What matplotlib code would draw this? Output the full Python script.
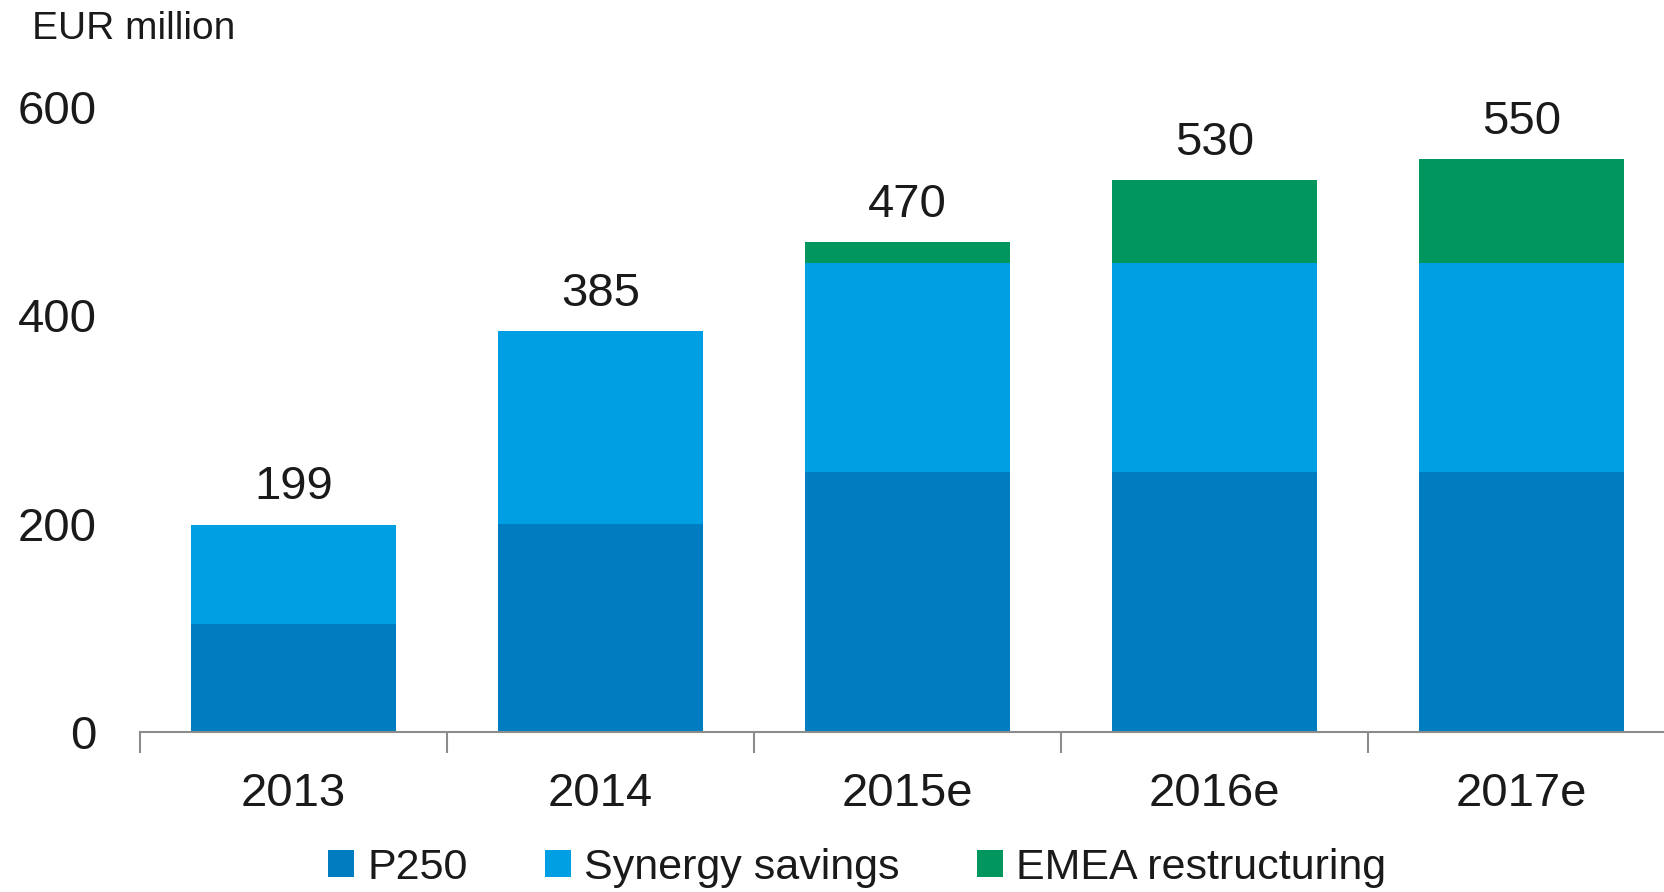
import numpy as np
import matplotlib.pyplot as plt

plt.rcParams['font.family'] = ['Liberation Sans', 'DejaVu Sans']

# Data
years = ['2013', '2014', '2015e', '2016e', '2017e']
p250 = [104, 200, 250, 250, 250]
synergy = [95, 185, 200, 200, 200]
emea = [0, 0, 20, 80, 100]
totals = ['199', '385', '470', '530', '550']

c_p250 = '#007DC0'
c_syn = '#009FE3'
c_emea = '#00965E'
txt = '#1a1a1a'

fig = plt.figure(figsize=(16.64, 8.92), dpi=100)
ax = fig.add_axes([140 / 1664, 160 / 892, 1524 / 1664, 677 / 892])

x = np.arange(len(years))
w = 0.667
b1 = np.array(p250)
b2 = b1 + np.array(synergy)
ax.bar(x, p250, w, color=c_p250, label='P250')
ax.bar(x, synergy, w, bottom=b1, color=c_syn, label='Synergy savings')
top = ax.bar(x, emea, w, bottom=b2, color=c_emea, label='EMEA restructuring')
ax.bar_label(top, labels=totals, padding=11, fontsize=34, color=txt)

ax.set_ylim(0, 650)
ax.set_xlim(-0.5, 4.5 - 11 / 307)
ax.set_yticks([0, 200, 400, 600])
ax.tick_params(axis='y', length=0, pad=31, labelsize=34, labelcolor=txt)

ax.set_xticks(x)
ax.set_xticklabels(years)
ax.set_xticks(np.arange(-0.5, 4.5, 1.0), minor=True)
ax.tick_params(axis='x', which='major', length=0, pad=29, labelsize=34, labelcolor=txt)
ax.tick_params(axis='x', which='minor', length=15, width=1.5, color='#8c8c8c', direction='out')

for s in ['top', 'right', 'left']:
    ax.spines[s].set_visible(False)
ax.spines['bottom'].set_color('#8c8c8c')
ax.spines['bottom'].set_linewidth(1.5)

fig.text(32 / 1664, 1 - 29 / 892, 'EUR million', fontsize=28, color=txt, va='center', ha='left')

fig.legend(loc='center', bbox_to_anchor=(857 / 1664, 24 / 892), ncol=3, frameon=False,
           fontsize=31, handlelength=0.6, handleheight=0.6, handletextpad=0.3,
           columnspacing=1.8, labelcolor=txt)

fig.savefig('out.png', dpi=100)
